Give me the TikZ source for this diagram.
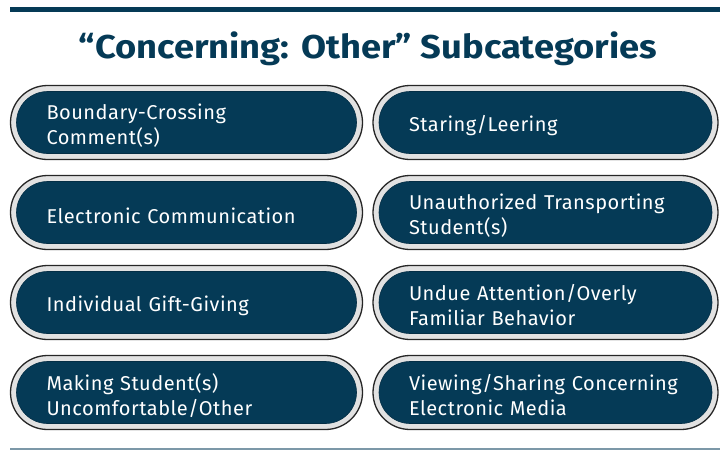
\documentclass[tikz,border=0pt]{standalone}
\usepackage{fontspec}
\setmainfont{Fira Sans}
\newfontfamily\pillfont[LetterSpace=2.5]{Fira Sans}
\definecolor{navy}{HTML}{053A56}
\definecolor{ring}{HTML}{E2E2E2}
\definecolor{rule}{HTML}{7C98A8}
\begin{document}
\begin{tikzpicture}[x=1pt,y=-1pt,
  pillout/.style={draw=black!85, line width=1.3pt, fill=ring, rounded corners=37pt,
    minimum width=352pt, minimum height=74pt, inner sep=0pt},
  pillin/.style={fill=navy, draw=navy!80!black, line width=0.6pt, rounded corners=31pt,
    minimum height=62pt, text width=280pt, inner xsep=30pt, inner ysep=0pt},
  pilltext/.style={text width=280pt, inner xsep=30pt, inner ysep=0pt, yshift=-3pt,
    align=left, text=white, font=\pillfont\fontsize{20}{25}\selectfont},
  title/.style={text=navy, font=\fontsize{33}{38}\selectfont\bfseries, xscale=1.1}]
\useasboundingbox (0,0) rectangle (720,450);
\draw[navy, line width=5pt] (10,9) -- (720,9);
\draw[rule, line width=2pt] (10,449) -- (720,449);
\node[title] (t) at (368,49) {“Concerning: Other” Subcategories};
% left column
\node[pillout] (o1) at (186.5,122.5) {};
\node[pillin] (p1) at (o1.center) {};
\node[pilltext] (l1) at (p1.center) {Boundary-Crossing\\Comment(s)};
\node[pillout] (o2) at (186.5,212.5) {};
\node[pillin] (p2) at (o2.center) {};
\node[pilltext] (l2) at (p2.center) {Electronic Communication};
\node[pillout] (o3) at (186.5,302.5) {};
\node[pillin] (p3) at (o3.center) {};
\node[pilltext] (l3) at (p3.center) {Individual Gift-Giving};
\node[pillout] (o4) at (186.5,392.5) {};
\node[pillin] (p4) at (o4.center) {};
\node[pilltext] (l4) at (p4.center) {Making Student(s)\\Uncomfortable/Other};
% right column
\node[pillout, minimum width=345pt] (o5) at (545.5,122.5) {};
\node[pillin, text width=273pt] (p5) at (o5.center) {};
\node[pilltext, text width=273pt] (l5) at (p5.center) {Staring/Leering};
\node[pillout, minimum width=345pt] (o6) at (545.5,212.5) {};
\node[pillin, text width=273pt] (p6) at (o6.center) {};
\node[pilltext, text width=273pt] (l6) at (p6.center) {Unauthorized Transporting\\Student(s)};
\node[pillout, minimum width=345pt] (o7) at (545.5,302.5) {};
\node[pillin, text width=273pt] (p7) at (o7.center) {};
\node[pilltext, text width=273pt] (l7) at (p7.center) {Undue Attention/Overly\\Familiar Behavior};
\node[pillout, minimum width=345pt] (o8) at (545.5,392.5) {};
\node[pillin, text width=273pt] (p8) at (o8.center) {};
\node[pilltext, text width=273pt] (l8) at (p8.center) {Viewing/Sharing Concerning\\Electronic Media};
\end{tikzpicture}
\end{document}
